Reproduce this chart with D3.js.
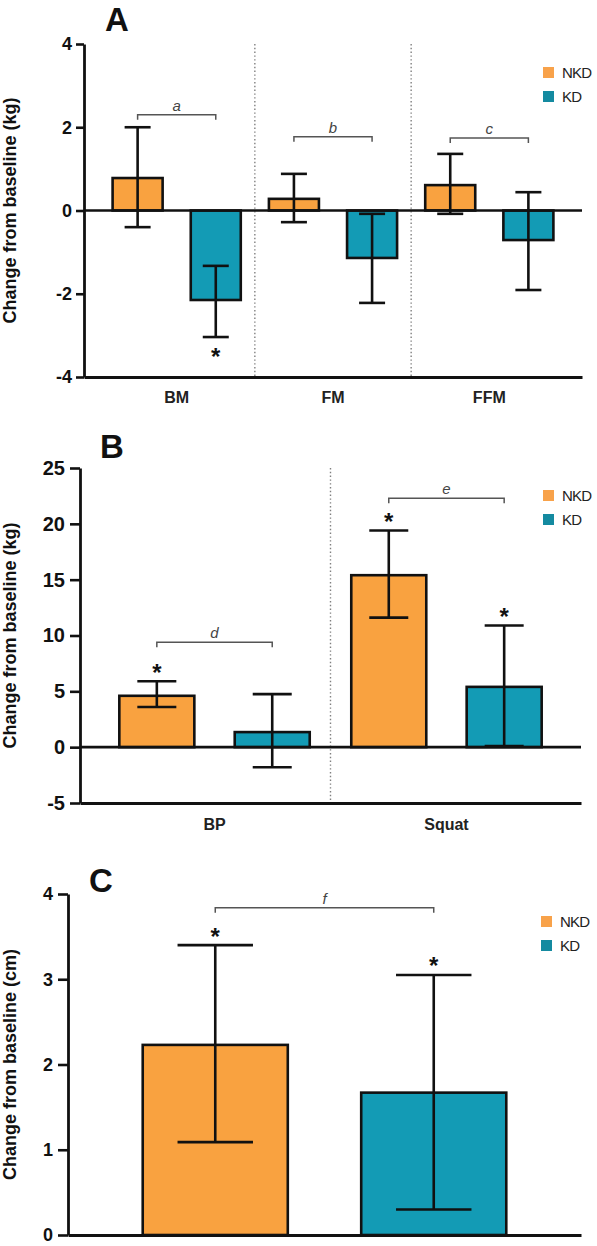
<!DOCTYPE html>
<html><head><meta charset="utf-8">
<script src="https://cdn.jsdelivr.net/npm/d3@7"></script>
<style>
body{margin:0;background:#fff}
svg{display:block}
text{font-family:"Liberation Sans",Arial,Helvetica,sans-serif}
</style>
</head><body>
<svg id="chart" width="597" height="1246"></svg>
<script>
// ---------- DATA ----------
const groups = ["NKD", "KD"];
const barColors = ["#F9A240", "#139BB5"];
const legendColors = ["#F8A24A", "#148AA0"];

// Panel A (body composition, kg)
const catsA = ["BM", "FM", "FFM"];
const nkdA = [0.78, 0.28, 0.61];
const nkdA_lo = [-0.40, -0.28, -0.08];
const nkdA_hi = [2.00, 0.88, 1.36];
const kdA = [-2.15, -1.14, -0.71];
const kdA_lo = [-3.04, -2.22, -1.91];
const kdA_hi = [-1.33, -0.08, 0.44];
const ticksA = [-4, -2, 0, 2, 4];
const sigA = ["a", "b", "c"];
const sigA_level = [2.3, 1.77, 1.74];
const starA_nkd = [false, false, false];
const starA_kd = [true, false, false];

// Panel B (strength, kg)
const catsB = ["BP", "Squat"];
const nkdB = [4.6, 15.4];
const nkdB_lo = [3.6, 11.6];
const nkdB_hi = [5.9, 19.4];
const kdB = [1.35, 5.4];
const kdB_lo = [-1.8, 0.1];
const kdB_hi = [4.75, 10.9];
const ticksB = [-5, 0, 5, 10, 15, 20, 25];
const sigB = ["d", "e"];
const sigB_level = [9.4, 22.3];
const starB_nkd = [true, true];
const starB_kd = [false, true];

// Panel C (cm)
const catsC = [""];
const nkdC = [2.23];
const nkdC_lo = [1.09];
const nkdC_hi = [3.40];
const kdC = [1.67];
const kdC_lo = [0.30];
const kdC_hi = [3.05];
const ticksC = [0, 1, 2, 3, 4];
const sigC = ["f"];
const sigC_level = [3.84];
const starC_nkd = [true];
const starC_kd = [true];

// ---------- DRAW ----------
const svg = d3.select("#chart");

function drawPanel(o) {
  const g = svg.append("g");
  const x = d3.scaleBand().domain(o.cats).range(o.xr).paddingInner(0).paddingOuter(o.po);
  const xs = d3.scaleBand().domain(groups).range([0, x.bandwidth()])
    .paddingInner(o.spi).paddingOuter(o.spo);
  const y = d3.scaleLinear().domain([d3.min(o.ticks), d3.max(o.ticks)]).range(o.yr);

  // separators
  o.cats.slice(1).forEach(c => {
    g.append("line")
      .attr("x1", x(c)).attr("x2", x(c))
      .attr("y1", y(d3.max(o.ticks))).attr("y2", y(d3.min(o.ticks)))
      .attr("stroke", "#808080").attr("stroke-width", 1.4)
      .attr("stroke-dasharray", "1.4,2.4");
  });

  const rows = [];
  o.cats.forEach((c, i) => {
    groups.forEach((gn, j) => {
      rows.push({
        c, gn, j,
        v: o.vals[j][i], lo: o.lo[j][i], hi: o.hi[j][i], star: o.star[j][i]
      });
    });
  });

  // bars
  g.selectAll("rect.bar").data(rows).enter().append("rect")
    .attr("class", "bar")
    .attr("x", d => x(d.c) + xs(d.gn))
    .attr("width", xs.bandwidth())
    .attr("y", d => y(Math.max(0, d.v)))
    .attr("height", d => Math.abs(y(d.v) - y(0)))
    .attr("fill", d => barColors[d.j])
    .attr("stroke", "#111").attr("stroke-width", 2.6);

  // error bars
  const cap = xs.bandwidth() * 0.52;
  rows.forEach(d => {
    const cx = x(d.c) + xs(d.gn) + xs.bandwidth() / 2;
    g.append("line").attr("x1", cx).attr("x2", cx)
      .attr("y1", y(d.lo)).attr("y2", y(d.hi))
      .attr("stroke", "#111").attr("stroke-width", 2.6);
    [d.lo, d.hi].forEach(v => {
      g.append("line").attr("x1", cx - cap / 2).attr("x2", cx + cap / 2)
        .attr("y1", y(v)).attr("y2", y(v))
        .attr("stroke", "#111").attr("stroke-width", 2.6);
    });
    if (d.star) {
      const below = d.v < 0;
      const cy = below ? y(d.lo) + 15 : y(d.hi) - 14;
      g.append("text").attr("x", cx).attr("y", cy + 0.56 * 24)
        .attr("text-anchor", "middle").attr("font-size", 24)
        .attr("font-weight", "bold").attr("fill", "#111").text("*");
    }
  });

  // significance brackets
  o.cats.forEach((c, i) => {
    const x1 = x(c) + xs(groups[0]) + xs.bandwidth() / 2;
    const x2 = x(c) + xs(groups[1]) + xs.bandwidth() / 2;
    const yy = y(o.sigLevel[i]);
    g.append("path")
      .attr("d", `M${x1},${yy + 5}V${yy}H${x2}V${yy + 5}`)
      .attr("fill", "none").attr("stroke", "#555").attr("stroke-width", 1.5);
    g.append("text").attr("x", (x1 + x2) / 2).attr("y", yy - 4)
      .attr("text-anchor", "middle").attr("font-size", 15)
      .attr("font-style", "italic").attr("fill", "#444").text(o.sig[i]);
  });

  // zero line
  if (o.zeroLine) {
    g.append("line").attr("x1", o.xr[0]).attr("x2", o.xr[1])
      .attr("y1", y(0)).attr("y2", y(0))
      .attr("stroke", "#111").attr("stroke-width", 2.6);
  }

  // y axis
  const ya = g.append("g").attr("transform", `translate(${o.xr[0]},0)`)
    .call(d3.axisLeft(y).tickValues(o.ticks).tickFormat(d => String(d))
      .tickSize(o.tickSize).tickSizeOuter(0).tickPadding(o.tickPad));
  ya.select(".domain").attr("stroke", "#111").attr("stroke-width", 2.8);
  ya.selectAll(".tick line").attr("stroke", "#111").attr("stroke-width", 2.6);
  ya.selectAll(".tick text").attr("font-size", o.tickFont).attr("font-weight", "bold")
    .attr("fill", "#111").attr("font-family", '"Liberation Sans",Arial,sans-serif');

  // x axis
  const xa = g.append("g").attr("transform", `translate(0,${y(d3.min(o.ticks))})`)
    .call(d3.axisBottom(x).tickSize(0).tickSizeOuter(0).tickPadding(o.xPad));
  xa.select(".domain").attr("stroke", "#111").attr("stroke-width", 2.8);
  xa.selectAll(".tick text").attr("font-size", o.xFont).attr("font-weight", "bold")
    .attr("fill", "#222").attr("font-family", '"Liberation Sans",Arial,sans-serif');

  // y label
  g.append("text")
    .attr("transform", `translate(16,${(o.yr[0] + o.yr[1]) / 2 + o.labelShift}) rotate(-90)`)
    .attr("text-anchor", "middle").attr("font-size", 18).attr("font-weight", "bold")
    .attr("fill", "#111").text(o.yLabel);

  // panel letter
  g.append("text").attr("x", o.letterPos[0]).attr("y", o.letterPos[1])
    .attr("text-anchor", "middle").attr("font-size", 33).attr("font-weight", "bold")
    .attr("fill", "#111").text(o.letter);

  // legend
  groups.forEach((gn, j) => {
    const ly = o.legendPos[1] + j * 24;
    g.append("rect").attr("x", o.legendPos[0]).attr("y", ly)
      .attr("width", 11).attr("height", 11).attr("fill", legendColors[j]);
    g.append("text").attr("x", o.legendPos[0] + 19).attr("y", ly + 11)
      .attr("font-size", 15).attr("letter-spacing", -0.8).attr("fill", "#222").text(gn);
  });
}

drawPanel({
  cats: catsA, vals: [nkdA, kdA], lo: [nkdA_lo, kdA_lo], hi: [nkdA_hi, kdA_hi],
  star: [starA_nkd, starA_kd], sig: sigA, sigLevel: sigA_level, ticks: ticksA,
  xr: [84, 582], po: 0.093, spi: 0.36, spo: 0.18, yr: [377, 44],
  zeroLine: true, tickSize: 8, tickPad: 4, tickFont: 18, xFont: 16, xPad: 15,
  yLabel: "Change from baseline (kg)", labelShift: 0, letter: "A", letterPos: [117, 31],
  legendPos: [543, 67]
});

drawPanel({
  cats: catsB, vals: [nkdB, kdB], lo: [nkdB_lo, kdB_lo], hi: [nkdB_hi, kdB_hi],
  star: [starB_nkd, starB_kd], sig: sigB, sigLevel: sigB_level, ticks: ticksB,
  xr: [80, 581], po: 0.08, spi: 0.35, spo: 0.18, yr: [803, 468],
  zeroLine: true, tickSize: 10, tickPad: 5, tickFont: 20, xFont: 16, xPad: 16,
  yLabel: "Change from baseline (kg)", labelShift: 0, letter: "B", letterPos: [112, 458],
  legendPos: [543, 490]
});

drawPanel({
  cats: catsC, vals: [nkdC, kdC], lo: [nkdC_lo, kdC_lo], hi: [nkdC_hi, kdC_hi],
  star: [starC_nkd, starC_kd], sig: sigC, sigLevel: sigC_level, ticks: ticksC,
  xr: [68, 581], po: 0, spi: 0.336, spo: 0.342, yr: [1235, 894],
  zeroLine: false, tickSize: 10, tickPad: 5, tickFont: 18, xFont: 16, xPad: 15,
  yLabel: "Change from baseline (cm)", labelShift: 0, letter: "C", letterPos: [101, 892],
  legendPos: [541, 916]
});
</script>
</body></html>
